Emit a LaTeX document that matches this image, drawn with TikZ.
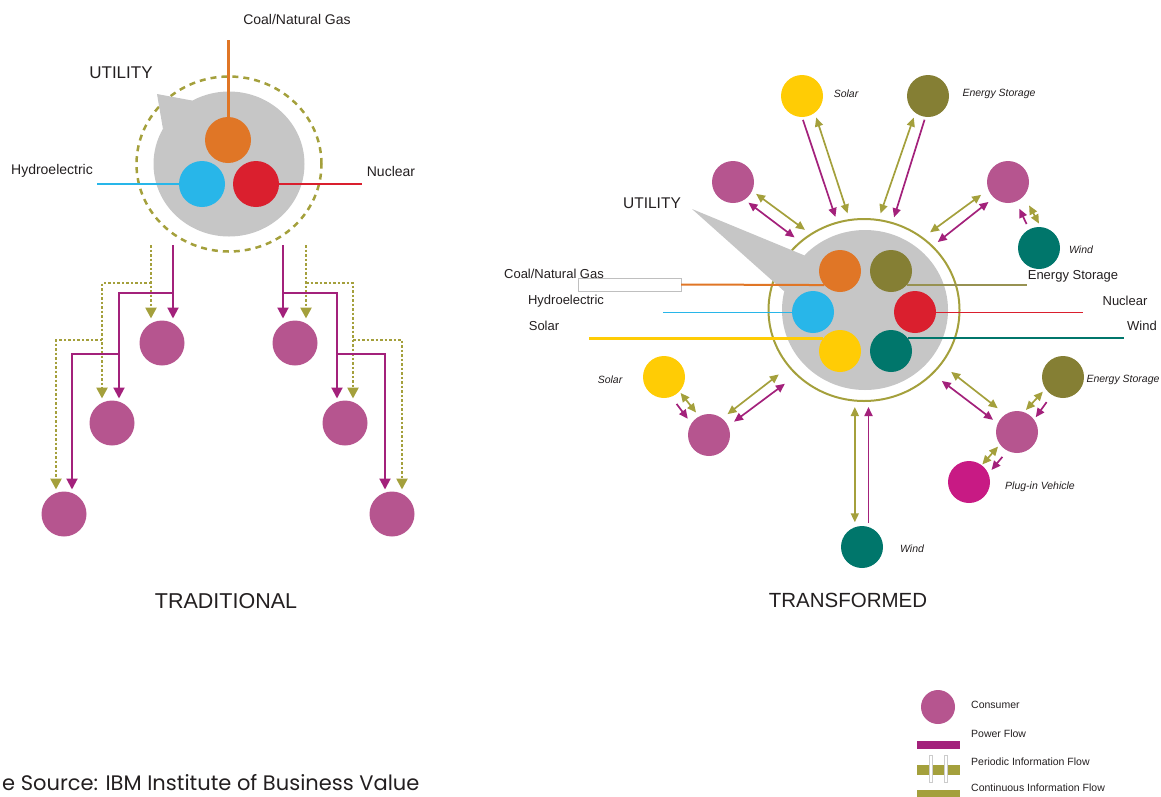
\documentclass[tikz,border=0pt]{standalone}
\usepackage{fontspec}
\setmainfont{Liberation Sans}
\newfontfamily\srcfont{Poppins}
\usetikzlibrary{arrows.meta,shapes.geometric}

\definecolor{consumer}{HTML}{B6558F}
\definecolor{powerflow}{HTML}{A3217B}
\definecolor{infoflow}{HTML}{A4A03C}
\definecolor{utilgray}{HTML}{C6C6C6}
\definecolor{coalorange}{HTML}{E07626}
\definecolor{hydroblue}{HTML}{28B6E9}
\definecolor{nucred}{HTML}{DA1F2E}
\definecolor{solaryellow}{HTML}{FFCC05}
\definecolor{windteal}{HTML}{00766B}
\definecolor{storeolive}{HTML}{857F34}
\definecolor{evpink}{HTML}{C81A84}
\definecolor{txt}{HTML}{231F20}

\begin{document}
\begin{tikzpicture}[x=1pt, y=-1pt, text=txt,
    ball/.style={circle, inner sep=0pt, outer sep=0pt, minimum size=#1},
    ball/.default=42pt,
    pf/.style={draw=powerflow, line width=1.7pt},
    cf/.style={draw=infoflow, line width=1.7pt},
    gap/.style 2 args={shorten <=#1pt, shorten >=#2pt},
    lbl/.style={inner sep=0pt, font=\fontsize{#1}{#1}\selectfont},
    tag/.style={inner sep=0pt, font=\fontsize{10.5}{12}\selectfont\itshape},
    pwt/.style={draw=powerflow, line width=2pt, shorten >=2pt, -{Triangle[length=11pt, width=11pt]}},
    pdt/.style={draw=infoflow, line width=2.5pt, dash pattern=on 2.5pt off 2pt, shorten >=2pt, -{Triangle[length=11pt, width=11pt]}},
    >={Triangle[length=9pt, width=8pt]}]

\useasboundingbox (0,0) rectangle (1161,796);

%% traditional
\node[ellipse, draw=infoflow, line width=2.5pt, dash pattern=on 6pt off 5pt, minimum width=185pt, minimum height=175pt, inner sep=0pt] (trDashL) at (229,164) {};
\node[ellipse, fill=utilgray, minimum width=151pt, minimum height=145pt, inner sep=0pt, outer sep=0pt] (trGrayL) at (229,164) {};
\fill[utilgray] (trGrayL.120) -- (157,94) -- (trGrayL.152) -- cycle;

\node[ball=46pt, fill=coalorange] (coL) at (228,140) {};
\node[ball=46pt, fill=hydroblue] (hyL) at (202,184) {};
\node[ball=46pt, fill=nucred] (nuL) at (256,184) {};
\draw[coalorange, line width=3pt] (coL.north) -- ++(0,-77);
\draw[hydroblue, line width=2pt] (hyL.west) -- ++(-82,0);
\draw[nucred, line width=2pt] (nuL.east) -- ++(83,0);

\node[lbl=14] (lbCoalL) at (297,19) {Coal/Natural Gas};
\node[lbl=17] (lbUtilL) at (121,73) {UTILITY};
\node[lbl=14] (lbHydroL) at (52,171) {Hydroelectric};
\node[lbl=14] (lbNucL) at (391,171) {Nuclear};
\node[lbl=21.5] (lbTrad) at (226,601) {TRADITIONAL};

\foreach \n/\x/\y in {L1/162/343, L2/112/423, L3/64/514, R1/295/343, R2/345/423, R3/392/514}
    \node[ball=45pt, fill=consumer] (c\n) at (\x,\y) {};

\foreach \p/\x/\y in {ifL/151/245, ifLa/151/283, ifLb/102/340, ifR/306/245, ifRa/306/283, ifRb/353/340,
                      pwL/173/245, pwLa/173/293, pwLb/119/354, pwR/283/245, pwRa/283/293, pwRb/337/354}
    \coordinate (\p) at (\x,\y);

% periodic information flow
\draw[pdt] (ifL) -- ([xshift=-11pt]cL1.north);
\draw[pdt] (ifLa) -| ([xshift=-10pt]cL2.north);
\draw[pdt] (ifLb) -| ([xshift=-8pt]cL3.north);
\draw[pdt] (ifR) -- ([xshift=11pt]cR1.north);
\draw[pdt] (ifRa) -| ([xshift=8pt]cR2.north);
\draw[pdt] (ifRb) -| ([xshift=10pt]cR3.north);
% power flow
\draw[pwt] (pwL) -- ([xshift=11pt]cL1.north);
\draw[pwt] (pwLa) -| ([xshift=7pt]cL2.north);
\draw[pwt] (pwLb) -| ([xshift=8pt]cL3.north);
\draw[pwt] (pwR) -- ([xshift=-12pt]cR1.north);
\draw[pwt] (pwRa) -| ([xshift=-8pt]cR2.north);
\draw[pwt] (pwRb) -| ([xshift=-7pt]cR3.north);

%% transformed
\node[ellipse, draw=infoflow, line width=2pt, minimum width=191pt, minimum height=182pt, inner sep=0pt, outer sep=0pt] (trRing) at (864,310) {};
\node[ellipse, fill=utilgray, minimum width=166pt, minimum height=160pt, inner sep=0pt, outer sep=0pt] (trGrayR) at (865,310) {};
\fill[utilgray] (trGrayR.138) -- (692,209) -- (trGrayR.167) -- cycle;

\node[draw=black!25, fill=white, minimum width=103pt, minimum height=13pt, inner sep=0pt, outer sep=0pt] (coalBox) at (629.5,284.5) {};

\foreach \n/\c/\x/\y in {coR/coalorange/840/271, esR/storeolive/891/271, hyR/hydroblue/813/312,
                         nuR/nucred/915/312, soR/solaryellow/840/351, wiR/windteal/891/351}
    \node[ball, fill=\c] (\n) at (\x,\y) {};

\draw[coalorange, line width=2pt] (coalBox.east) -- (coR.-138);
\draw[hydroblue, line width=1pt] (hyR.west) -- ++(-129,0);
\draw[solaryellow, line width=3pt] (soR.145) -- ++(-234,0);
\draw[storeolive!85, line width=2.5pt] (esR.-42) -- ++(120,0);
\draw[nucred, line width=1pt] (nuR.east) -- ++(147,0);
\draw[windteal, line width=2.5pt] (wiR.38) -- ++(216,0);

\node[lbl=15.5] (lbUtilR) at (652,203) {UTILITY};
\node[lbl=13] (lbCoalR) at (554,274) {Coal/Natural Gas};
\node[lbl=13] (lbHydroR) at (566,301) {Hydroelectric};
\node[lbl=13] (lbSolarR) at (544,326) {Solar};
\node[lbl=13] (lbStoreR) at (1073,276) {Energy Storage};
\node[lbl=13] (lbNucR) at (1125,301) {Nuclear};
\node[lbl=13] (lbWindR) at (1142,326) {Wind};
\node[lbl=20.5] (lbTrans) at (848,600) {TRANSFORMED};

\foreach \n/\c/\x/\y in {soT/solaryellow/802/96, esT/storeolive/928/96, cUL/consumer/733/182,
                         cUR/consumer/1008/182, wiT/windteal/1039/248, soB/solaryellow/664/377,
                         cLL/consumer/709/435, esB/storeolive/1063/377, cLR/consumer/1017/432,
                         pev/evpink/969/482, wiB/windteal/862/547}
    \node[ball, fill=\c] (\n) at (\x,\y) {};

\node[tag] (tgSolT) at (846,94) {Solar};
\node[tag] (tgStoreT) at (999,94) {Energy Storage};
\node[tag] (tgWindT) at (1081,250) {Wind};
\node[tag] (tgSolB) at (610,380) {Solar};
\node[tag] (tgStoreB) at (1123,380) {Energy Storage};
\node[tag] (tgEv) at (1040,487) {Plug-in Vehicle};
\node[tag] (tgWindB) at (912,549) {Wind};

% continuous information flow
\draw[cf,<->,gap={5}{7}] (soT.-53) -- (trRing.99);
\draw[cf,<->,gap={5}{7}] (esT.-127) -- (trRing.81);
\draw[cf,<->,gap={5}{7.5}] (cUL.-25) -- (trRing.125);
\draw[cf,<->,gap={9}{9.5}] (cUR.-159) -- (trRing.51);
\draw[cf,<->,gap={11}{4}] (cUR.-41) -- (wiT.85);
\draw[cf,<->,gap={2}{5}] (soB.-43) -- (cLL.118);
\draw[cf,<->,gap={7}{13}] (cLL.52) -- (trRing.-143);
\draw[cf,<->,gap={10}{13}] (cLR.123) -- (trRing.-35);
\draw[cf,<->,gap={4}{3}] (esB.-146) -- (cLR.71);
\draw[cf,<->,gap={3}{1}] (cLR.-144) -- (pev.53);
\draw[cf,<->,gap={5}{6}] (wiB.110) -- (wiB.110 |- trRing.south);
% power flow
\draw[pf,->,gap={3}{6}] (soT.-90) -- (trRing.107);
\draw[pf,->,gap={3}{6}] (esT.-97) -- (trRing.72);
\draw[pf,<->,gap={5}{7.5}] (cUL.-57) -- (trRing.133);
\draw[pf,<->,gap={7}{7}] (cUR.-132) -- (trRing.43);
\draw[pf,->,gap={6}{8}] (wiT.118) -- (cUR.-68);
\draw[pf,->,gap={9}{6}] (soB.-70) -- (cLL.147);
\draw[pf,<->,gap={7.5}{15}] (cLL.25) -- (trRing.-136);
\draw[pf,<->,gap={6}{12}] (cLR.156) -- (trRing.-43);
\draw[pf,->,gap={9}{3}] (esB.-122) -- (cLR.36);
\draw[pf,->,gap={8}{5}] (cLR.-117) -- (pev.23);
\draw[pf,->,gap={4}{6}] (wiB.72) -- (wiB.72 |- trRing.south);

%% legend
\node[ball=34pt, fill=consumer] (lgCons) at (938,707) {};
\node[fill=powerflow, minimum width=43pt, minimum height=8pt, inner sep=0pt] (lgPow) at (938.5,745) {};
\node[fill=infoflow, minimum width=43pt, minimum height=10pt, inner sep=0pt] (lgPer) at (938.5,770) {};
\foreach \x in {931,946}
    \draw[black!20, fill=white, line width=0.5pt] (\x-1.5,755) rectangle (\x+1.5,782);
\node[fill=infoflow, minimum width=43pt, minimum height=8pt, inner sep=0pt] (lgCon) at (938.5,794) {};

\node[lbl=10.5, anchor=west] (lgConsT) at (971,705) {Consumer};
\node[lbl=10.5, anchor=west] (lgPowT) at (971,734) {Power Flow};
\node[lbl=10.5, anchor=west] (lgPerT) at (971,762) {Periodic Information Flow};
\node[lbl=10.5, anchor=west] (lgConT) at (971,788) {Continuous Information Flow};

\node[anchor=base west, inner sep=0pt, font=\srcfont\fontsize{21}{24}\selectfont] (srcNote) at (2,790) {e Source: IBM Institute of Business Value};
\end{tikzpicture}
\end{document}
